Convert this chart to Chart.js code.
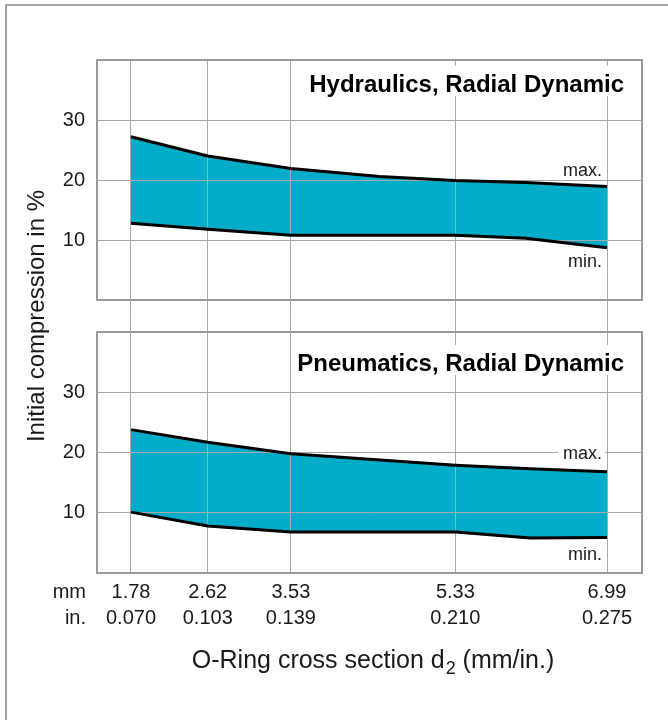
<!DOCTYPE html>
<html>
<head>
<meta charset="utf-8">
<title>Initial compression - radial dynamic</title>
<script src="https://cdn.jsdelivr.net/npm/chart.js@4.4.1/dist/chart.umd.min.js"></script>
<style>
  html, body { margin: 0; padding: 0; background: #fff; }
  #wrap { position: relative; width: 668px; height: 720px; overflow: hidden; }
  #frame {
    position: absolute; left: 5px; top: 4px; width: 700px; height: 760px;
    border-left: 2px solid #a3a3a3; border-top: 2px solid #a3a3a3;
  }
  #chart { position: absolute; left: 0; top: 0; }
</style>
</head>
<body>
<div id="wrap">
  <div id="frame"></div>
  <canvas id="chart" width="668" height="720"></canvas>
</div>
<script>
// Axis ticks
const mmTicks = [1.78, 2.62, 3.53, 5.33, 6.99];
const inTicks = ["0.070", "0.103", "0.139", "0.210", "0.275"];
const yTicks = [10, 20, 30];

// Hydraulics, radial dynamic (upper panel)
const hydX = [1.78, 2.62, 3.53, 4.5, 5.33, 6.1, 6.99];
const hydMax = [27.2, 24.0, 21.9, 20.6, 19.9, 19.6, 18.9];
const hydMin = [12.8, 11.8, 10.8, 10.8, 10.8, 10.3, 8.7];

// Pneumatics, radial dynamic (lower panel)
const pneuX = [1.78, 2.62, 3.53, 5.33, 6.15, 6.99];
const pneuMax = [23.8, 21.7, 19.8, 17.9, 17.3, 16.8];
const pneuMin = [10.1, 7.8, 6.8, 6.8, 5.8, 5.9];

const hydTitle = "Hydraulics, Radial Dynamic";
const pneuTitle = "Pneumatics, Radial Dynamic";

const fontFamily = "'Liberation Sans', Arial, sans-serif";
const fillColor = "#00acc8";
const gridColor = "#a9a9a9";
const textColor = "#1a1a1a";

function toPoints(xs, ys) {
  return xs.map((x, i) => ({ x: x, y: ys[i] }));
}

function bandLine(label, xs, ys, axis, fillToNext) {
  return {
    label: label,
    data: toPoints(xs, ys),
    yAxisID: axis,
    borderColor: "#000",
    borderWidth: 3,
    borderJoinStyle: "round",
    pointRadius: 0,
    tension: 0,
    fill: fillToNext ? "+1" : false,
    backgroundColor: fillColor,
  };
}

// Every left axis in the stack gets the same width
function fixWidth(scale) {
  scale.width = 97;
}

function panelAxis(weight) {
  return {
    type: "linear",
    position: "left",
    stack: "panels",
    stackWeight: weight,
    min: 0,
    max: 40,
    afterBuildTicks: (scale) => {
      scale.ticks = yTicks.map((v) => ({ value: v }));
    },
    afterFit: fixWidth,
    grid: { color: gridColor, lineWidth: 1, drawTicks: false },
    border: { display: false },
    ticks: { color: textColor, padding: 12, font: { family: fontFamily, size: 20 } },
  };
}

// Panel frames, titles and the hand labels
const decorPlugin = {
  id: "decor",
  afterDraw(chart) {
    const ctx = chart.ctx;
    const area = chart.chartArea;
    const x = chart.scales.x;
    const top = chart.scales.yTop;
    const bot = chart.scales.yBot;
    const xEnd = x.getPixelForValue(mmTicks[mmTicks.length - 1]);

    ctx.save();

    // panel boxes
    ctx.strokeStyle = "#9a9a9a";
    ctx.lineWidth = 2;
    [top, bot].forEach((s) => {
      ctx.strokeRect(area.left, s.top, area.right - area.left, s.bottom - s.top);
    });

    // panel titles on a white patch
    ctx.font = "bold 24px " + fontFamily;
    ctx.textAlign = "right";
    ctx.textBaseline = "alphabetic";
    [[hydTitle, top.top + 32], [pneuTitle, bot.top + 39]].forEach(([text, base]) => {
      const w = ctx.measureText(text).width;
      const right = area.right - 18;
      ctx.fillStyle = "#fff";
      ctx.fillRect(right - w - 6, base - 26, w + 14, 30);
      ctx.fillStyle = "#000";
      ctx.fillText(text, right, base);
    });

    // max. / min. labels
    ctx.font = "18px " + fontFamily;
    ctx.textBaseline = "middle";
    const labels = [
      [top, "max.", 21.5, false],
      [top, "min.", 6.3, false],
      [bot, "max.", 19.8, true],
      [bot, "min.", 3.0, false],
    ];
    labels.forEach(([s, text, v, patch]) => {
      const y = s.getPixelForValue(v);
      const w = ctx.measureText(text).width;
      if (patch) {
        ctx.fillStyle = "#fff";
        ctx.fillRect(xEnd - 6 - w - 4, y - 10, w + 8, 20);
      }
      ctx.fillStyle = textColor;
      ctx.fillText(text, xEnd - 5, y);
    });

    // unit names in front of the tick rows
    ctx.font = "20px " + fontFamily;
    ctx.fillText("mm", 86, x.top + 6 + 13);
    ctx.fillText("in.", 86, x.top + 6 + 39);

    // x axis title with subscript
    const partA = "O-Ring cross section d";
    const partB = "2";
    const partC = " (mm/in.)";
    ctx.textAlign = "left";
    ctx.textBaseline = "alphabetic";
    ctx.font = "25px " + fontFamily;
    const wA = ctx.measureText(partA).width;
    const wC = ctx.measureText(partC).width;
    ctx.font = "18px " + fontFamily;
    const wB = ctx.measureText(partB).width;
    const cx = (area.left + area.right) / 2 + 3;
    let tx = cx - (wA + wB + wC) / 2;
    const base = 668;
    ctx.fillStyle = textColor;
    ctx.font = "25px " + fontFamily;
    ctx.fillText(partA, tx, base);
    tx += wA;
    ctx.font = "18px " + fontFamily;
    ctx.fillText(partB, tx + 1, base + 6);
    tx += wB + 1;
    ctx.font = "25px " + fontFamily;
    ctx.fillText(partC, tx, base);

    ctx.restore();
  },
};

const ctx = document.getElementById("chart").getContext("2d");

new Chart(ctx, {
  type: "line",
  data: {
    datasets: [
      bandLine("Hydraulics max.", hydX, hydMax, "yTop", true),
      bandLine("Hydraulics min.", hydX, hydMin, "yTop", false),
      bandLine("Pneumatics max.", pneuX, pneuMax, "yBot", true),
      bandLine("Pneumatics min.", pneuX, pneuMin, "yBot", false),
    ],
  },
  options: {
    responsive: false,
    animation: false,
    layout: { padding: { top: 60, right: 26, bottom: 0, left: 0 } },
    plugins: {
      legend: { display: false },
      tooltip: { enabled: false },
      filler: { drawTime: "beforeDraw" },
    },
    scales: {
      x: {
        type: "linear",
        min: 1.408,
        max: 7.373,
        afterBuildTicks: (scale) => {
          scale.ticks = mmTicks.map((v) => ({ value: v }));
        },
        afterFit: (scale) => {
          scale.height = 147;
        },
        grid: { color: gridColor, lineWidth: 1, drawTicks: false },
        border: { display: false },
        ticks: {
          autoSkip: false,
          maxRotation: 0,
          padding: 6,
          color: textColor,
          font: { family: fontFamily, size: 20, lineHeight: 1.3 },
          callback: (value, index) => [mmTicks[index].toFixed(2), inTicks[index]],
        },
      },
      yBot: panelAxis(241),
      yGap: {
        type: "linear",
        position: "left",
        stack: "panels",
        stackWeight: 32,
        afterFit: fixWidth,
        grid: { display: false },
        border: { display: false },
        ticks: { display: false },
        title: {
          display: true,
          text: "Initial compression in %",
          color: textColor,
          font: { family: fontFamily, size: 24 },
          padding: { top: 23, bottom: 0 },
        },
      },
      yTop: panelAxis(240),
    },
  },
  plugins: [decorPlugin],
});
</script>
</body>
</html>
